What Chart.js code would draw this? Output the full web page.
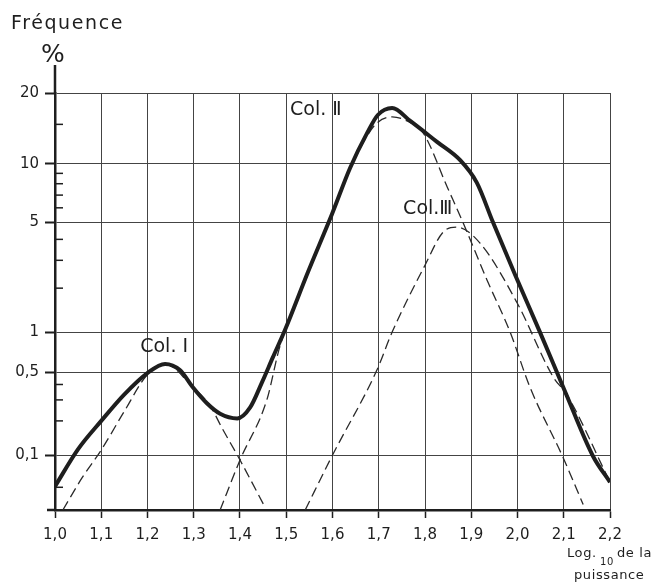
<!DOCTYPE html>
<html>
<head>
<meta charset="utf-8">
<script src="https://cdn.jsdelivr.net/npm/chart.js@4.4.0/dist/chart.umd.min.js"></script>
<style>
  html, body { margin: 0; padding: 0; background: #fff; }
  canvas { display: block; }
</style>
</head>
<body>
<canvas id="freqChart" width="657" height="583"></canvas>
<script>
// frequency (%) against log10 of the power, ordinate on probability paper

const xTicks = [1.0, 1.1, 1.2, 1.3, 1.4, 1.5, 1.6, 1.7, 1.8, 1.9, 2.0, 2.1, 2.2];
const yMajor = [20, 10, 5, 1, 0.5, 0.1];
const yMajorLabels = ['20', '10', '5', '1', '0,5', '0,1'];
const yMinor = [15, 9, 8, 7, 6, 4, 3, 2, 0.4, 0.3, 0.2, 0.05];

// total (solid curve)
const totalX = [1.0, 1.05, 1.1, 1.149, 1.199, 1.238, 1.27, 1.298, 1.329, 1.357, 1.394, 1.422, 1.448,
  1.471, 1.497, 1.547, 1.599, 1.638, 1.675, 1.698, 1.729, 1.768, 1.826, 1.876, 1.912, 1.947, 1.995,
  2.049, 2.103, 2.163, 2.2];
const totalY = [0.051, 0.113, 0.2, 0.33, 0.49, 0.58, 0.52, 0.38, 0.28, 0.23, 0.21, 0.26, 0.42,
  0.65, 1.03, 2.54, 5.56, 9.56, 13.8, 16.4, 17.5, 15.5, 12.6, 10.4, 8.1, 5.0, 2.43,
  0.99, 0.35, 0.098, 0.056];

// Col. I
const col1X = [1.017, 1.058, 1.1, 1.149, 1.199, 1.238, 1.298, 1.335, 1.361, 1.4, 1.454];
const col1Y = [0.03, 0.061, 0.111, 0.238, 0.476, 0.58, 0.38, 0.27, 0.174, 0.09, 0.032];

// Col. II
const col2X = [1.357, 1.4, 1.458, 1.486, 1.547, 1.599, 1.638, 1.675, 1.696, 1.729, 1.761, 1.796,
  1.848, 1.882, 1.934, 1.984, 2.027, 2.098, 2.142];
const col2Y = [0.03, 0.09, 0.3, 0.78, 2.47, 5.5, 9.5, 13.4, 15.2, 16.1, 15.5, 13.8,
  7.7, 5.0, 2.26, 1.0, 0.38, 0.096, 0.034];

// Col. III
const col3X = [1.541, 1.599, 1.696, 1.729, 1.8, 1.839, 1.869, 1.919, 1.999, 2.077, 2.107, 2.196];
const col3Y = [0.03, 0.098, 0.52, 1.0, 2.8, 4.4, 4.7, 3.8, 1.6, 0.46, 0.33, 0.061];

// inverse normal cdf (Acklam)
function probit(p) {
  const a = [-3.969683028665376e+01, 2.209460984245205e+02, -2.759285104469687e+02, 1.383577518672690e+02, -3.066479806614716e+01, 2.506628277459239e+00];
  const b = [-5.447609879822406e+01, 1.615858368580409e+02, -1.556989798598866e+02, 6.680131188771972e+01, -1.328068155288572e+01];
  const c = [-7.784894002430293e-03, -3.223964580411365e-01, -2.400758277161838e+00, -2.549732539343734e+00, 4.374664141464968e+00, 2.938163982698783e+00];
  const d = [7.784695709041462e-03, 3.224671290700398e-01, 2.445134137142996e+00, 3.754408661907416e+00];
  const pl = 0.02425;
  let q, r;
  if (p < pl) {
    q = Math.sqrt(-2 * Math.log(p));
    return (((((c[0]*q + c[1])*q + c[2])*q + c[3])*q + c[4])*q + c[5]) / ((((d[0]*q + d[1])*q + d[2])*q + d[3])*q + 1);
  }
  if (p <= 1 - pl) {
    q = p - 0.5; r = q * q;
    return (((((a[0]*r + a[1])*r + a[2])*r + a[3])*r + a[4])*r + a[5])*q / (((((b[0]*r + b[1])*r + b[2])*r + b[3])*r + b[4])*r + 1);
  }
  q = Math.sqrt(-2 * Math.log(1 - p));
  return -(((((c[0]*q + c[1])*q + c[2])*q + c[3])*q + c[4])*q + c[5]) / ((((d[0]*q + d[1])*q + d[2])*q + d[3])*q + 1);
}
const toZ = pct => probit(pct / 100);
const pts = (xs, ys) => xs.map((x, i) => ({ x: x, y: toZ(ys[i]) }));

const INK = '#1e1e1e';
const GRID = '#444';

const solidStyle = { borderColor: INK, borderWidth: 4, pointRadius: 0, fill: false, cubicInterpolationMode: 'monotone' };
const dashStyle = { borderColor: '#2a2a2a', borderWidth: 1.3, borderDash: [10, 5], pointRadius: 0, fill: false, cubicInterpolationMode: 'monotone' };

const decor = {
  id: 'decor',
  afterDraw(chart) {
    const { ctx, chartArea: a, scales: { x, y } } = chart;
    ctx.save();
    // axis extensions
    ctx.strokeStyle = INK;
    ctx.lineWidth = 2.5;
    ctx.beginPath();
    ctx.moveTo(a.left, a.top);
    ctx.lineTo(a.left, a.top - 28);
    ctx.moveTo(a.left - 8, a.bottom);
    ctx.lineTo(a.left, a.bottom);
    ctx.stroke();
    // minor ticks point inwards
    ctx.lineWidth = 1.5;
    yMinor.forEach(p => {
      const py = y.getPixelForValue(toZ(p));
      ctx.beginPath();
      ctx.moveTo(a.left, py);
      ctx.lineTo(a.left + 8, py);
      ctx.stroke();
    });

    ctx.fillStyle = INK;
    ctx.textAlign = 'left';
    ctx.textBaseline = 'alphabetic';
    ctx.font = '19px "DejaVu Sans"';
    ctx.letterSpacing = '1.6px';
    ctx.fillText('Fréquence', 11, 29);
    ctx.letterSpacing = '0px';
    ctx.font = '25px "DejaVu Sans"';
    ctx.fillText('%', 41, 62);

    // curve names
    ctx.font = '19px "DejaVu Sans"';
    ctx.textAlign = 'center';
    ctx.textBaseline = 'middle';
    [['Col. Ⅰ', 1.236, 0.78], ['Col. Ⅱ', 1.564, 17.2], ['Col.Ⅲ', 1.806, 5.92]].forEach(([t, vx, vy]) => {
      ctx.fillText(t, x.getPixelForValue(vx), y.getPixelForValue(toZ(vy)));
    });

    // abscissa title
    ctx.textAlign = 'left';
    ctx.textBaseline = 'alphabetic';
    ctx.font = '13px "DejaVu Sans"';
    ctx.letterSpacing = '0.6px';
    ctx.fillText('Log.', 567, 557);
    ctx.fillText('de la', 617, 557);
    ctx.fillText('puissance', 574, 579);
    ctx.font = '10px "DejaVu Sans"';
    ctx.fillText('10', 600, 565);
    ctx.restore();
  }
};

new Chart(document.getElementById('freqChart'), {
  type: 'line',
  data: {
    datasets: [
      Object.assign({ label: 'Total', data: pts(totalX, totalY) }, solidStyle),
      Object.assign({ label: 'Col. I', data: pts(col1X, col1Y) }, dashStyle),
      Object.assign({ label: 'Col. II', data: pts(col2X, col2Y) }, dashStyle),
      Object.assign({ label: 'Col. III', data: pts(col3X, col3Y) }, dashStyle)
    ]
  },
  options: {
    responsive: false,
    animation: false,
    layout: { padding: { top: 93, right: 47, left: 0, bottom: 0 } },
    plugins: { legend: { display: false }, tooltip: { enabled: false } },
    scales: {
      x: {
        type: 'linear',
        min: 1.0,
        max: 2.2,
        afterBuildTicks: s => { s.ticks = xTicks.map(v => ({ value: v })); },
        afterFit: s => { s.height = 73; s.paddingLeft = 0; s.paddingRight = 0; },
        ticks: {
          callback: v => v.toFixed(1).replace('.', ','),
          font: { family: 'DejaVu Sans', size: 15 },
          color: INK,
          padding: 8,
          maxRotation: 0,
          autoSkip: false
        },
        grid: { color: GRID, lineWidth: 1, tickLength: 8, tickColor: INK, tickWidth: 1.5 },
        border: { color: INK, width: 2.5 }
      },
      y: {
        type: 'linear',
        bounds: 'data',
        min: toZ(0.03),
        max: toZ(20),
        afterBuildTicks: s => {
          const major = yMajor.map((p, i) => ({ value: toZ(p), txt: yMajorLabels[i], minor: false }));
          const minor = yMinor.map(p => ({ value: toZ(p), txt: '', minor: true }));
          s.ticks = major.concat(minor).sort((m, n) => m.value - n.value);
        },
        afterFit: s => { s.width = 55; s.paddingTop = 0; s.paddingBottom = 0; },
        ticks: {
          callback: (v, i, t) => t[i].txt,
          font: { family: 'DejaVu Sans', size: 15 },
          color: INK,
          padding: 6,
          autoSkip: false
        },
        grid: {
          color: c => (c.tick && c.tick.minor) ? 'rgba(0,0,0,0)' : GRID,
          tickColor: c => (c.tick && c.tick.minor) ? 'rgba(0,0,0,0)' : INK,
          lineWidth: 1,
          tickLength: 10,
          tickWidth: 2
        },
        border: { color: INK, width: 2.5 }
      }
    }
  },
  plugins: [decor]
});
</script>
</body>
</html>
